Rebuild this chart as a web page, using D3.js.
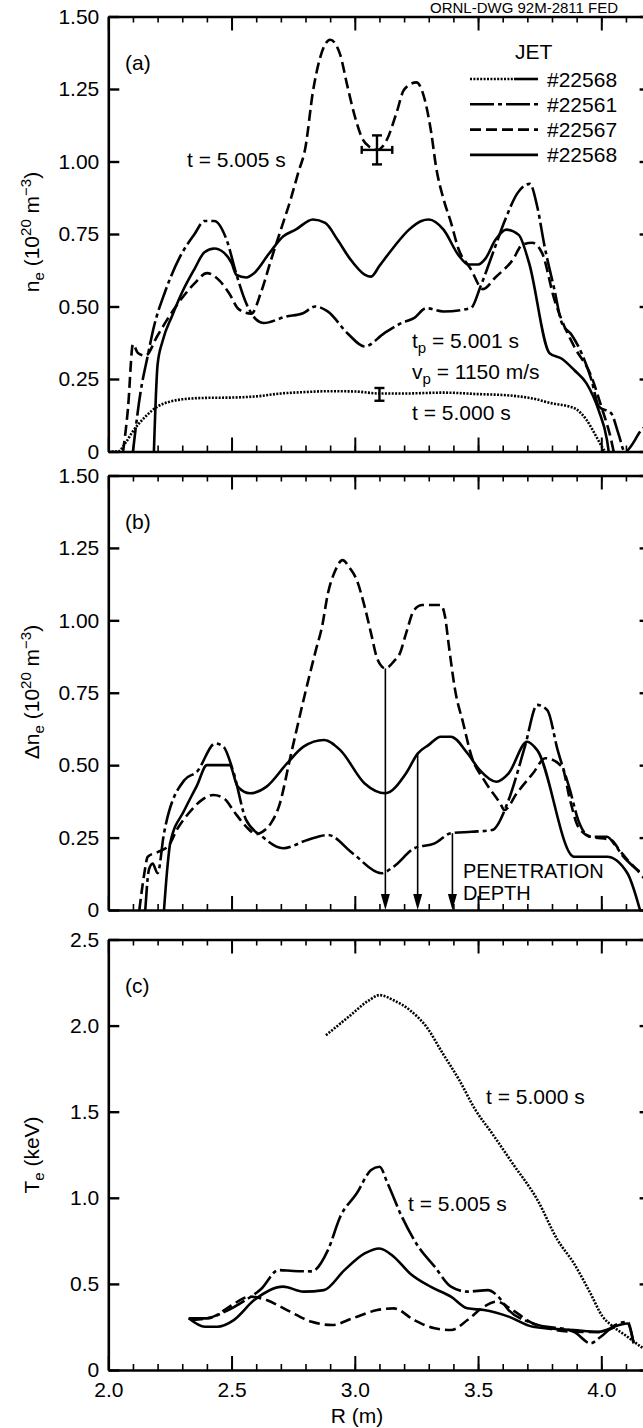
<!DOCTYPE html>
<html>
<head>
<meta charset="utf-8">
<script src="https://cdn.jsdelivr.net/npm/d3@7"></script>
<style>
  body { margin: 0; background: #fff; }
  svg { display: block; }
  text { font-family: "Liberation Sans", Arial, sans-serif; fill: #000; }
  .axis path, .axis line { stroke: #000; }
  .curve { fill: none; stroke: #000; stroke-width: 2.6; }
</style>
</head>
<body>
<svg width="643" height="1428"></svg>
<script>
// ---- data (R in m) ----
// panel (a) : n_e (10^20 m^-3)
var aDotted = [[2.0,0],[2.04,0],[2.07,0.03],[2.1,0.07],[2.15,0.12],[2.2,0.155],[2.25,0.172],[2.3,0.18],[2.4,0.185],[2.5,0.186],[2.6,0.19],[2.7,0.2],[2.8,0.205],[2.9,0.208],[3.0,0.207],[3.1,0.2],[3.2,0.2],[3.36,0.203],[3.5,0.198],[3.63,0.193],[3.72,0.183],[3.8,0.166],[3.87,0.155],[3.9,0.145],[3.94,0.109],[3.98,0.051],[4.007,0.01],[4.015,0]];
var aDashDot = [[2.10,0],[2.13,0.2],[2.16,0.33],[2.185,0.43],[2.23,0.55],[2.29,0.67],[2.35,0.75],[2.39,0.795],[2.43,0.795],[2.48,0.73],[2.52,0.61],[2.56,0.51],[2.6,0.455],[2.63,0.443],[2.72,0.465],[2.79,0.477],[2.84,0.5],[2.89,0.483],[2.97,0.408],[3.04,0.362],[3.12,0.408],[3.19,0.443],[3.24,0.46],[3.29,0.494],[3.36,0.483],[3.47,0.494],[3.51,0.569],[3.56,0.684],[3.61,0.799],[3.66,0.891],[3.71,0.923],[3.74,0.845],[3.77,0.707],[3.81,0.557],[3.84,0.443],[3.88,0.402],[3.92,0.339],[3.96,0.247],[3.99,0.155],[4.04,0.132],[4.07,0.06],[4.095,0],[4.17,0.08],[4.22,0.1]];
var aDashed = [[2.06,0],[2.08,0.15],[2.1,0.37],[2.12,0.34],[2.15,0.33],[2.2,0.4],[2.25,0.47],[2.3,0.53],[2.35,0.58],[2.4,0.615],[2.45,0.59],[2.49,0.546],[2.53,0.49],[2.58,0.475],[2.62,0.55],[2.66,0.66],[2.7,0.765],[2.74,0.87],[2.77,0.96],[2.8,1.05],[2.83,1.24],[2.86,1.36],[2.9,1.42],[2.94,1.37],[2.97,1.26],[3.0,1.156],[3.03,1.08],[3.06,1.05],[3.09,1.04],[3.13,1.075],[3.17,1.17],[3.2,1.248],[3.25,1.273],[3.28,1.225],[3.31,1.10],[3.33,0.98],[3.36,0.87],[3.39,0.79],[3.42,0.70],[3.47,0.63],[3.52,0.56],[3.57,0.60],[3.64,0.66],[3.68,0.713],[3.72,0.72],[3.76,0.684],[3.81,0.523],[3.84,0.452],[3.89,0.362],[3.96,0.258],[4.0,0.155],[4.04,0.04],[4.05,0]];
var aSolid = [[2.185,0],[2.2,0.3],[2.22,0.38],[2.26,0.47],[2.3,0.55],[2.35,0.63],[2.39,0.687],[2.43,0.70],[2.47,0.685],[2.5,0.65],[2.52,0.609],[2.56,0.6],[2.59,0.614],[2.65,0.68],[2.71,0.742],[2.76,0.765],[2.83,0.80],[2.88,0.788],[2.93,0.73],[2.98,0.665],[3.04,0.61],[3.066,0.603],[3.1,0.64],[3.16,0.707],[3.22,0.765],[3.27,0.795],[3.3,0.80],[3.36,0.765],[3.42,0.678],[3.46,0.645],[3.5,0.645],[3.53,0.665],[3.57,0.729],[3.615,0.765],[3.665,0.747],[3.707,0.65],[3.79,0.339],[3.84,0.32],[3.89,0.281],[3.94,0.235],[3.99,0.14],[4.023,0.04],[4.03,0]];

// panel (b) : delta n_e
var bDashDot = [[2.15,0],[2.165,0.14],[2.18,0.16],[2.20,0.127],[2.226,0.265],[2.309,0.449],[2.359,0.477],[2.434,0.575],[2.467,0.564],[2.509,0.472],[2.559,0.311],[2.625,0.253],[2.709,0.213],[2.808,0.242],[2.891,0.259],[2.991,0.196],[3.108,0.127],[3.158,0.15],[3.241,0.213],[3.324,0.23],[3.39,0.265],[3.474,0.27],[3.557,0.276],[3.624,0.38],[3.69,0.564],[3.74,0.708],[3.781,0.69],[3.823,0.552],[3.873,0.414],[3.906,0.311],[3.956,0.253],[4.023,0.253],[4.056,0.224],[4.09,0.184],[4.13,0.15],[4.164,0.127]];
var bDashed = [[2.126,0],[2.145,0.12],[2.16,0.184],[2.2,0.2],[2.243,0.22],[2.28,0.28],[2.326,0.334],[2.38,0.38],[2.426,0.397],[2.47,0.385],[2.51,0.34],[2.559,0.288],[2.6,0.262],[2.625,0.27],[2.66,0.3],[2.692,0.357],[2.742,0.541],[2.792,0.725],[2.842,0.897],[2.867,0.978],[2.891,1.093],[2.92,1.17],[2.95,1.208],[2.98,1.18],[3.008,1.139],[3.04,1.047],[3.066,0.955],[3.09,0.87],[3.11,0.84],[3.124,0.834],[3.16,0.86],[3.183,0.886],[3.208,0.955],[3.241,1.036],[3.274,1.053],[3.349,1.053],[3.366,1.013],[3.382,0.909],[3.407,0.759],[3.44,0.644],[3.474,0.529],[3.524,0.449],[3.59,0.368],[3.607,0.345],[3.657,0.403],[3.723,0.472],[3.773,0.524],[3.84,0.495],[3.873,0.38],[3.906,0.288],[3.956,0.253],[4.04,0.242],[4.073,0.207],[4.106,0.173],[4.157,0.127],[4.2,0.08]];
var bSolid = [[2.226,0],[2.24,0.15],[2.251,0.23],[2.309,0.345],[2.36,0.43],[2.40,0.50],[2.492,0.50],[2.525,0.426],[2.575,0.403],[2.642,0.426],[2.725,0.506],[2.792,0.564],[2.875,0.587],[2.941,0.552],[3.04,0.437],[3.124,0.403],[3.208,0.472],[3.255,0.54],[3.30,0.57],[3.349,0.598],[3.39,0.598],[3.457,0.541],[3.507,0.483],[3.574,0.443],[3.624,0.472],[3.699,0.581],[3.74,0.552],[3.889,0.184],[4.023,0.184],[4.106,0.127],[4.157,0.0]];

// panel (c) : T_e (keV)
var cDotted = [[2.883,1.944],[2.975,2.051],[3.058,2.147],[3.10,2.177],[3.158,2.147],[3.224,2.089],[3.291,1.992],[3.357,1.838],[3.424,1.683],[3.49,1.509],[3.557,1.374],[3.64,1.2],[3.74,0.99],[3.823,0.754],[3.889,0.619],[3.956,0.445],[4.006,0.309],[4.04,0.261],[4.106,0.193],[4.17,0.126],[4.2,0.1]];
var cDashDot = [[2.326,0.30],[2.4,0.30],[2.46,0.33],[2.55,0.40],[2.62,0.47],[2.69,0.58],[2.75,0.575],[2.825,0.573],[2.891,0.696],[2.941,0.89],[3.008,1.026],[3.066,1.161],[3.10,1.18],[3.133,1.084],[3.191,0.89],[3.258,0.716],[3.324,0.6],[3.39,0.484],[3.457,0.455],[3.54,0.464],[3.582,0.426],[3.624,0.348],[3.723,0.271],[3.889,0.222],[3.956,0.155],[3.998,0.193],[4.056,0.261],[4.106,0.28],[4.131,0.155]];
var cSolid = [[2.326,0.30],[2.392,0.251],[2.442,0.251],[2.509,0.29],[2.592,0.406],[2.709,0.484],[2.792,0.455],[2.875,0.464],[2.958,0.58],[3.04,0.677],[3.10,0.706],[3.158,0.658],[3.224,0.561],[3.307,0.484],[3.39,0.426],[3.457,0.358],[3.524,0.348],[3.624,0.31],[3.723,0.251],[3.889,0.232],[3.989,0.222],[4.073,0.261],[4.106,0.27],[4.131,0.155]];
var cDashed = [[2.34,0.29],[2.426,0.31],[2.492,0.368],[2.575,0.426],[2.642,0.406],[2.725,0.348],[2.825,0.28],[2.908,0.261],[2.991,0.30],[3.091,0.348],[3.158,0.358],[3.241,0.29],[3.324,0.242],[3.39,0.232],[3.457,0.29],[3.524,0.368],[3.574,0.397],[3.64,0.348],[3.723,0.27],[3.889,0.222],[3.99,0.22],[4.056,0.25]];

// error bars in (a): [R, value, dValue, dR]
var aErrors = [[3.09, 1.04, 0.05, 0.062], [3.10, 0.197, 0.022, 0]];
// penetration depth arrows in (b): [R, value at top]
var bArrows = [[3.124, 0.834], [3.255, 0.54], [3.396, 0.265]];

var legendShots = ["#22568", "#22561", "#22567", "#22568"];
var nTicks = [0, 0.25, 0.5, 0.75, 1.0, 1.25, 1.5];
var tTicks = [0, 0.5, 1.0, 1.5, 2.0, 2.5];
var rTicks = [2.0, 2.5, 3.0, 3.5, 4.0];

var dash = { dotted: "2,1.4", dashdot: "24,4,4,4", dashed: "11,5", solid: null };

var svg = d3.select("svg");
var x = d3.scaleLinear().domain([2.0, 4.2]).range([108.3, 650.6]);

var panels = [
  { top: 16.5, bottom: 451.5, max: 1.5, ticks: nTicks, fmt: d3.format(".2f"), tag: "(a)" },
  { top: 475.5, bottom: 910, max: 1.5, ticks: nTicks, fmt: d3.format(".2f"), tag: "(b)" },
  { top: 939.5, bottom: 1370, max: 2.5, ticks: tTicks, fmt: d3.format(".1f"), tag: "(c)" }
];

var line = function(y) {
  return d3.line()
    .x(function(d) { return x(d[0]); })
    .y(function(d) { return y(d[1]); })
    .curve(d3.curveMonotoneX);
};

panels.forEach(function(p, i) {
  p.y = d3.scaleLinear().domain([0, p.max]).range([p.bottom, p.top]);
  var g = svg.append("g");
  var fmt = function(v) { return v === 0 ? "0" : p.fmt(v); };

  // left axis, ticks inward
  g.append("g").attr("class", "axis")
    .attr("transform", "translate(" + x(2.0) + ",0)")
    .call(d3.axisLeft(p.y).tickValues(p.ticks).tickFormat(fmt).tickSizeInner(-11).tickSizeOuter(0).tickPadding(9))
    .call(function(s) {
      s.select(".domain").attr("stroke-width", 2.6);
      s.selectAll(".tick line").attr("stroke-width", 2.4);
      s.selectAll("text").attr("font-size", 21).attr("font-family", null);
    });
  // right axis
  g.append("g").attr("class", "axis")
    .attr("transform", "translate(" + x(4.2) + ",0)")
    .call(d3.axisRight(p.y).tickValues(p.ticks).tickFormat("").tickSizeInner(-11).tickSizeOuter(0))
    .call(function(s) { s.selectAll("line").attr("stroke-width", 2.4); s.select(".domain").attr("stroke-width", 2.6); });

  // top and bottom: minor (0.1) and major (0.5) ticks
  [[p.top, d3.axisTop, 1], [p.bottom, d3.axisBottom, -1]].forEach(function(e) {
    var minor = d3.range(2.0, 4.21, 0.1);
    g.append("g").attr("class", "axis")
      .attr("transform", "translate(0," + e[0] + ")")
      .call(e[1](x).tickValues(minor).tickFormat("").tickSizeInner(-6).tickSizeOuter(0))
      .call(function(s) { s.select(".domain").attr("stroke-width", 2.6); s.selectAll(".tick line").attr("stroke-width", 1.6); });
    var major = e[1](x).tickValues(rTicks).tickSizeInner(-14).tickSizeOuter(0).tickPadding(12);
    if (!(i === 2 && e[2] === -1)) major.tickFormat("");
    else major.tickFormat(d3.format(".1f"));
    g.append("g").attr("class", "axis")
      .attr("transform", "translate(0," + e[0] + ")")
      .call(major)
      .call(function(s) {
        s.select(".domain").remove();
        s.selectAll(".tick line").attr("stroke-width", 2);
        s.selectAll("text").attr("font-size", 21).attr("font-family", null);
      });
  });

  g.append("text").attr("x", 125).attr("y", p.top + 53).attr("font-size", 21).text(p.tag);
});

var ya = panels[0].y, yb = panels[1].y, yc = panels[2].y;

function draw(data, y, style) {
  svg.append("path").datum(data)
    .attr("class", "curve")
    .attr("stroke-dasharray", dash[style])
    .attr("d", line(y));
}

draw(aDotted, ya, "dotted");
draw(aDashDot, ya, "dashdot");
draw(aDashed, ya, "dashed");
draw(aSolid, ya, "solid");
draw(bDashDot, yb, "dashdot");
draw(bDashed, yb, "dashed");
draw(bSolid, yb, "solid");
draw(cDotted, yc, "dotted");
draw(cDashDot, yc, "dashdot");
draw(cSolid, yc, "solid");
draw(cDashed, yc, "dashed");

// error bars
aErrors.forEach(function(e) {
  var cx = x(e[0]), y1 = ya(e[1] + e[2]), y2 = ya(e[1] - e[2]);
  var eg = svg.append("g").attr("stroke", "#000").attr("stroke-width", 2.4);
  eg.append("line").attr("x1", cx).attr("x2", cx).attr("y1", y1).attr("y2", y2);
  eg.append("line").attr("x1", cx - 5).attr("x2", cx + 5).attr("y1", y1).attr("y2", y1);
  eg.append("line").attr("x1", cx - 5).attr("x2", cx + 5).attr("y1", y2).attr("y2", y2);
  if (e[3] > 0) {
    var xl = x(e[0] - e[3]), xr = x(e[0] + e[3]), cy = ya(e[1]);
    eg.append("line").attr("x1", xl).attr("x2", xr).attr("y1", cy).attr("y2", cy);
    eg.append("line").attr("x1", xl).attr("x2", xl).attr("y1", cy - 4).attr("y2", cy + 4);
    eg.append("line").attr("x1", xr).attr("x2", xr).attr("y1", cy - 4).attr("y2", cy + 4);
  }
});

// penetration depth arrows
bArrows.forEach(function(a) {
  var ax = x(a[0]), y0 = yb(0);
  svg.append("line").attr("x1", ax).attr("x2", ax).attr("y1", yb(a[1])).attr("y2", y0 - 12)
    .attr("stroke", "#000").attr("stroke-width", 1.6);
  svg.append("path").attr("d", "M" + (ax - 4.5) + "," + (y0 - 16) + "L" + (ax + 4.5) + "," + (y0 - 16) + "L" + ax + "," + y0 + "Z")
    .attr("fill", "#000");
});

// legend
svg.append("text").attr("x", 515).attr("y", 59).attr("font-size", 21).text("JET");
var legStyles = ["dotted", "dashdot", "dashed", "solid"];
legendShots.forEach(function(s, i) {
  var ly = 79 + i * 25.3;
  if (i === 0) {
    svg.append("line").attr("x1", 470).attr("x2", 514).attr("y1", ly).attr("y2", ly)
      .attr("stroke", "#000").attr("stroke-width", 2.6).attr("stroke-dasharray", dash.dotted);
    svg.append("line").attr("x1", 514).attr("x2", 538).attr("y1", ly).attr("y2", ly)
      .attr("stroke", "#000").attr("stroke-width", 2.6);
  } else {
    svg.append("line").attr("x1", 470).attr("x2", 538).attr("y1", ly).attr("y2", ly)
      .attr("stroke", "#000").attr("stroke-width", 2.6).attr("stroke-dasharray", dash[legStyles[i]]);
  }
  svg.append("text").attr("x", 547).attr("y", ly + 7.5).attr("font-size", 21).text(s);
});

// annotations
function label(xp, yp, parts, size) {
  var t = svg.append("text").attr("x", xp).attr("y", yp).attr("font-size", size || 21);
  parts.forEach(function(q) {
    t.append("tspan").attr("dy", q[1] || 0).attr("font-size", q[2] || null).text(q[0]);
  });
  return t;
}
label(187, 167, [["t = 5.005 s"]]);
label(412, 348, [["t"], ["p", 5, 15], [" = 5.001 s", -5]]);
label(412, 379, [["v"], ["p", 5, 15], [" = 1150 m/s", -5]]);
label(412, 420, [["t = 5.000 s"]]);
label(463, 878, [["PENETRATION"]], 20);
label(463, 900, [["DEPTH"]], 20);
label(486, 1104, [["t = 5.000 s"]]);
label(408, 1211, [["t = 5.005 s"]]);

// drawing number at the top right
svg.append("text").attr("x", 430).attr("y", 12.5).attr("font-size", 15).text("ORNL-DWG 92M-2811 FED");

// axis titles
function ytitle(cy, parts) {
  var t = svg.append("text").attr("text-anchor", "middle").attr("font-size", 21)
    .attr("transform", "translate(39," + cy + ") rotate(-90)");
  parts.forEach(function(q) {
    t.append("tspan").attr("dy", q[1] || 0).attr("font-size", q[2] || null).text(q[0]);
  });
}
ytitle(232, [["n"], ["e", 5, 15], [" (10", -5], ["20", -8, 15], [" m", 8], ["\u22123", -8, 15], [")", 8]]);
ytitle(692, [["\u0394n"], ["e", 5, 15], [" (10", -5], ["20", -8, 15], [" m", 8], ["\u22123", -8, 15], [")", 8]]);
ytitle(1155, [["T"], ["e", 5, 15], [" (keV)", -5]]);
svg.append("text").attr("x", 357).attr("y", 1423).attr("text-anchor", "middle").attr("font-size", 21).text("R (m)");
</script>
</body>
</html>
